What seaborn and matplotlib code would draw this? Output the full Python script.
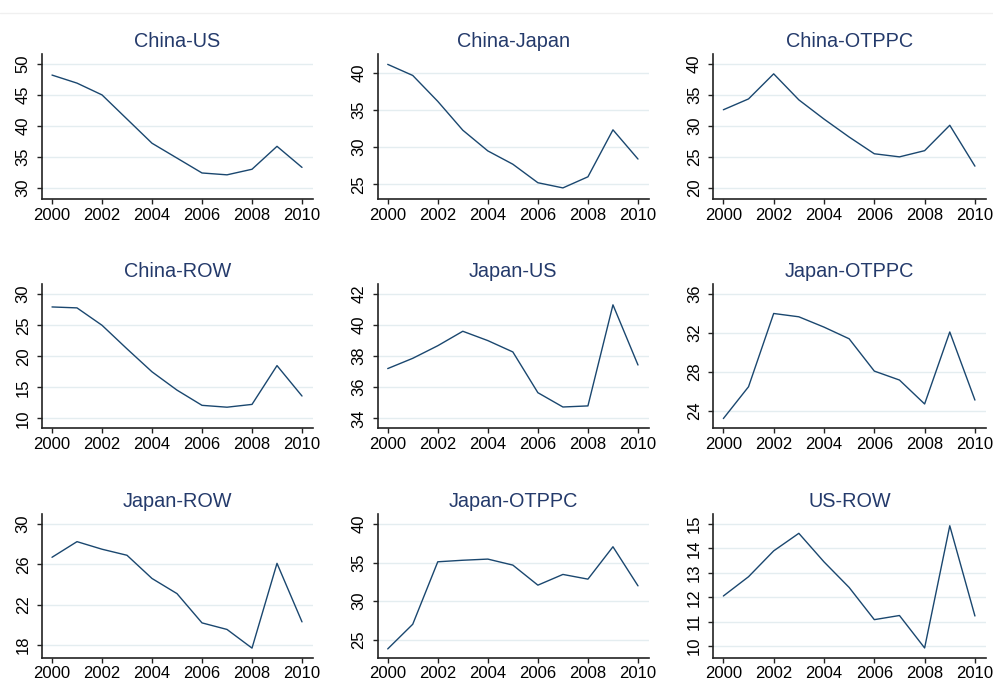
import matplotlib
matplotlib.use("Agg")
import matplotlib.pyplot as plt
from matplotlib.lines import Line2D
import numpy as np
import pandas as pd
import seaborn as sns

years = list(range(2000, 2011))

titles = ["China-US", "China-Japan", "China-OTPPC",
          "China-ROW", "Japan-US", "Japan-OTPPC",
          "Japan-ROW", "Japan-OTPPC", "US-ROW"]

china_us = [48.2, 46.9, 45.0, 41.1, 37.2, 34.8, 32.4, 32.1, 33.0, 36.7, 33.3]
china_japan = [41.2, 39.7, 36.2, 32.3, 29.5, 27.7, 25.2, 24.5, 26.0, 32.35, 28.4]
china_otppc = [32.6, 34.35, 38.4, 34.2, 31.1, 28.2, 25.5, 25.0, 26.0, 30.1, 23.5]
china_row = [27.95, 27.8, 25.0, 21.2, 17.5, 14.55, 12.1, 11.8, 12.25, 18.5, 13.6]
japan_us = [37.2, 37.86, 38.67, 39.6, 39.0, 38.27, 35.65, 34.73, 34.8, 41.3, 37.43]
japan_otppc_a = [23.2, 26.47, 34.0, 33.66, 32.6, 31.4, 28.08, 27.16, 24.7, 32.1, 25.1]
japan_row = [26.7, 28.25, 27.5, 26.9, 24.6, 23.1, 20.2, 19.55, 17.7, 26.1, 20.3]
japan_otppc_b = [23.8, 27.0, 35.1, 35.3, 35.45, 34.67, 32.07, 33.46, 32.85, 37.05, 31.98]
us_row = [12.05, 12.84, 13.9, 14.62, 13.45, 12.4, 11.08, 11.25, 9.92, 14.93, 11.23]

series = [china_us, china_japan, china_otppc,
          china_row, japan_us, japan_otppc_a,
          japan_row, japan_otppc_b, us_row]

y_ticks = [np.arange(30, 51, 5), np.arange(25, 41, 5), np.arange(20, 41, 5),
           np.arange(10, 31, 5), np.arange(34, 43, 2), np.arange(24, 37, 4),
           np.arange(18, 31, 4), np.arange(25, 41, 5), np.arange(10, 16, 1)]

y_limits = [(28.2, 51.6), (23.0, 42.6), (18.2, 41.6),
            (8.4, 31.6), (33.36, 42.62), (22.2, 37.0),
            (16.75, 30.96), (22.66, 41.26), (9.52, 15.4)]

x_ticks = list(range(2000, 2011, 2))

sns.set_theme(style="white")
plt.rcParams["font.family"] = ["Liberation Sans", "DejaVu Sans"]

NAVY = "#1a476f"
TITLE = "#243a6b"
GRID = "#e4edf0"
SPINE = "#222222"

W, H = 993, 692
fig = plt.figure(figsize=(W / 100, H / 100), dpi=100)
fig.patch.set_facecolor("white")

# faint outer region border
fig.add_artist(Line2D([0, 1], [1 - 13 / H, 1 - 13 / H], transform=fig.transFigure,
                      color="#f0f0f0", lw=1))

col_left = [42, 377.7, 713.3]
col_right = [313, 649, 986]
row_top = [54, 284.3, 514.3]
row_bottom = [199, 428.3, 657.7]

for i, (title, vals) in enumerate(zip(titles, series)):
    r, c = divmod(i, 3)
    left = col_left[c] / W
    width = (col_right[c] - col_left[c]) / W
    bottom = 1 - row_bottom[r] / H
    height = (row_bottom[r] - row_top[r]) / H
    ax = fig.add_axes([left, bottom, width, height])

    df = pd.DataFrame({"year": years, "value": vals})
    sns.lineplot(data=df, x="year", y="value", ax=ax, color=NAVY, linewidth=1.0)

    ax.set_xlim(1999.6, 2010.44)
    ax.set_ylim(*y_limits[i])
    ax.set_xticks(x_ticks)
    ax.set_yticks(y_ticks[i])
    ax.set_xticklabels([str(x) for x in x_ticks])
    ax.set_yticklabels([str(int(v)) for v in y_ticks[i]], rotation=90, va="center")
    ax.set_xlabel("")
    ax.set_ylabel("")

    for yv in y_ticks[i]:
        ax.axhline(yv, color=GRID, lw=1.0, zorder=0)

    for s in ["top", "right"]:
        ax.spines[s].set_visible(False)
    for s in ["left", "bottom"]:
        ax.spines[s].set_visible(True)
        ax.spines[s].set_color(SPINE)
        ax.spines[s].set_linewidth(1.2)

    ax.tick_params(axis="x", which="both", direction="out", length=3.6, width=1.0,
                   color=SPINE, pad=2.7, labelsize=12, labelcolor="black", bottom=True)
    ax.tick_params(axis="y", which="both", direction="out", length=3.6, width=1.0,
                   color=SPINE, pad=4.5, labelsize=12, labelcolor="black", left=True)
    ax.set_facecolor("white")
    ax.grid(False)

    ax.text(0.5, 1 + 12.7 / (row_bottom[r] - row_top[r]), title, transform=ax.transAxes,
            ha="center", va="center", fontsize=14.3, color=TITLE)

fig.savefig("out.png", dpi=100, facecolor="white")
